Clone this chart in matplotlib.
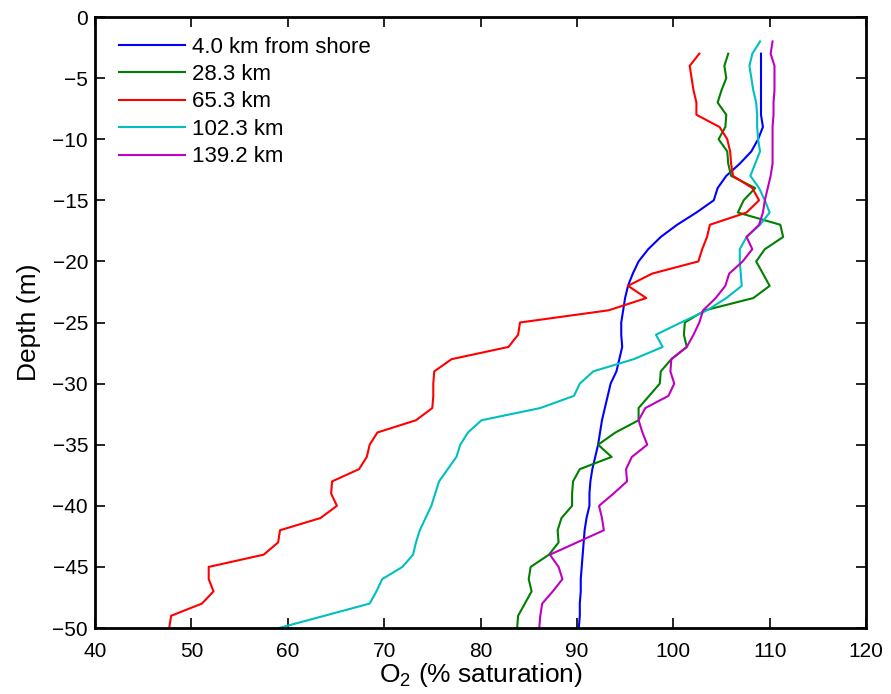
import matplotlib
matplotlib.use("Agg")
import matplotlib.pyplot as plt
import numpy as np

plt.rcParams['font.family'] = ['Liberation Sans', 'DejaVu Sans']
plt.rcParams['mathtext.fontset'] = 'custom'
plt.rcParams['mathtext.rm'] = 'Liberation Sans'

# depth (m) for the shallow-start profiles
depth_a = list(range(-3, -51, -1))
depth_b = list(range(-2, -51, -1))

o2_4km = [109.1, 109.1, 109.1, 109.1, 109.1, 109.1, 109.3, 108.8, 108.1, 106.9,
          105.5, 104.6, 104.2, 102.4, 100.4, 98.7, 97.4, 96.4, 95.8, 95.3,
          95.0, 94.8, 94.6, 94.6, 94.7, 94.4, 94.1, 93.5, 93.2, 92.9,
          92.6, 92.4, 92.2, 91.9, 91.6, 91.4, 91.3, 91.3, 91.0, 90.8,
          90.7, 90.6, 90.5, 90.4, 90.4, 90.3, 90.3, 90.2]

o2_28km = [105.7, 105.3, 105.5, 105.0, 104.6, 105.5, 105.4, 104.7, 105.6, 105.7,
           106.0, 108.5, 107.3, 106.7, 111.1, 111.4, 109.5, 108.6, 109.3, 110.0,
           108.3, 103.3, 101.2, 101.1, 101.4, 99.8, 98.7, 98.6, 97.5, 96.4,
           96.4, 94.0, 92.2, 93.6, 90.3, 89.6, 89.5, 89.5, 88.4, 88.0,
           88.1, 87.1, 85.2, 85.0, 85.3, 84.6, 83.9, 83.8]

o2_65km = [102.7, 101.7, 101.9, 102.1, 102.4, 102.4, 104.8, 105.6, 105.9, 106.0,
           106.2, 108.2, 108.9, 107.6, 103.8, 103.5, 103.0, 102.6, 97.8, 95.3,
           97.2, 93.3, 84.1, 83.9, 82.9, 77.0, 75.2, 75.1, 75.1, 75.0,
           73.3, 69.3, 68.5, 68.2, 67.4, 64.6, 64.5, 65.1, 63.4, 59.2,
           59.0, 57.5, 51.8, 51.8, 52.3, 51.1, 47.9, 47.7]

o2_102km = [109.0, 108.2, 107.9, 108.1, 108.3, 108.6, 108.7, 108.7, 108.8, 109.0,
            108.5, 108.0, 108.9, 109.5, 110.0, 109.0, 107.6, 106.9, 106.9, 107.0,
            107.1, 105.5, 103.5, 100.8, 98.2, 98.9, 95.9, 91.7, 90.3, 89.7,
            86.2, 80.1, 78.7, 77.9, 77.5, 76.6, 75.7, 75.3, 74.9, 74.3,
            73.7, 73.3, 73.0, 71.9, 69.8, 69.2, 68.5, 63.8, 59.1]

o2_139km = [110.3, 110.1, 110.5, 110.5, 110.5, 110.4, 110.4, 110.3, 110.3, 110.3,
            110.3, 110.1, 109.8, 109.5, 109.3, 108.9, 107.6, 108.2, 107.2, 105.8,
            105.4, 104.4, 103.1, 102.7, 102.1, 101.4, 99.8, 99.7, 100.1, 99.5,
            97.1, 96.4, 96.8, 97.3, 95.7, 95.1, 95.2, 93.8, 92.3, 92.6,
            92.8, 90.0, 87.2, 88.1, 88.5, 87.5, 86.4, 86.2, 86.1]

labels = ['4.0 km from shore', '28.3 km', '65.3 km', '102.3 km', '139.2 km']
colors = ['#0000ff', '#008000', '#ff0000', '#00bfbf', '#bf00bf']

fig = plt.figure(figsize=(8.91, 6.94), dpi=100)
ax = fig.add_axes([0.1066, 0.0951, 0.8654, 0.8804])

series = [(o2_4km, depth_a), (o2_28km, depth_a), (o2_65km, depth_a),
          (o2_102km, depth_b), (o2_139km, depth_b)]
for (vals, dep), lab, col in zip(series, labels, colors):
    ax.plot(vals, dep, color=col, lw=1.5, label=lab)

ax.set_xlim(40, 120)
ax.set_ylim(-50, 0)
ax.set_xticks(np.arange(40, 121, 10))
ax.set_yticks(np.arange(-50, 1, 5))
ax.tick_params(direction='in', top=True, right=True, length=7, width=1.2,
               labelsize=15)
ax.tick_params(axis='x', pad=10)
ax.tick_params(axis='y', pad=5)
for sp in ax.spines.values():
    sp.set_linewidth(2.0)

ax.set_xlabel('O$_2$ (% saturation)', fontsize=19, labelpad=0)
ax.set_ylabel('Depth (m)', fontsize=19, labelpad=8)

ax.legend(loc='upper left', bbox_to_anchor=(0.031, 0.968), frameon=False,
          fontsize=16, handlelength=2.97, handletextpad=0.3,
          labelspacing=0.29, borderaxespad=0, borderpad=0)

fig.savefig('out.png', dpi=100)
